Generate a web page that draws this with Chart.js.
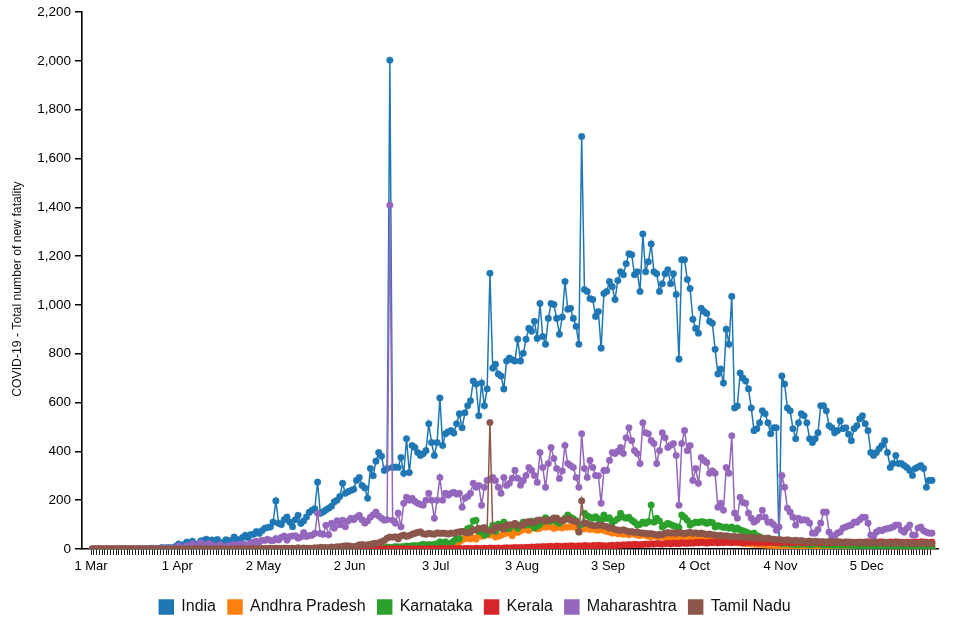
<!DOCTYPE html>
<html>
<head>
<meta charset="utf-8">
<script src="https://cdn.jsdelivr.net/npm/chart.js@4.4.1/dist/chart.umd.min.js"></script>
<style>
html,body{margin:0;padding:0;background:#ffffff;}
#wrap{width:957px;height:628px;position:relative;}
</style>
</head>
<body>
<div id="wrap"><canvas id="c"></canvas></div>
<script>
// ---- categories / labels ----
const seriesNames = ['India', 'Andhra Pradesh', 'Karnataka', 'Kerala', 'Maharashtra', 'Tamil Nadu'];
const seriesColors = ['#1f77b4', '#ff7f0e', '#2ca02c', '#d62728', '#9467bd', '#8c564b'];
const xTickLabels = ['1 Mar', '1 Apr', '2 May', '2 Jun', '3 Jul', '3 Aug', '3 Sep', '4 Oct', '4 Nov', '5 Dec'];
const xTickEvery = 31;            // one labelled tick every 31 days, starting 1 Mar
const yTickValues = [0, 200, 400, 600, 800, 1000, 1200, 1400, 1600, 1800, 2000, 2200];
const yAxisTitle = 'COVID-19 - Total number of new fatality';

// ---- daily new fatalities, 1 Mar .. 28 Dec (one value per day) ----
const india = [].concat(
  [0,0,0,0,0,0,0,0,0,0,0,1,0,1,0,0,0,1,0,1,1,3,3,2,2,6,4,6,5,5,11],
  [20,12,18,28,10,32,17,20,33,35,40,28,37,29,39,26,23,38,35,31,49,40,33,47,56,46,59,60,72,64],
  [75,85,88,90,110,197,105,100,120,131,110,91,120,138,105,115,131,150,159,165,274,146,152,160,167,175,193,200,215,269,228],
  [235,240,245,281,293,260,250,208,330,300,360,395,380,322,330,2003,334,336,334,375,310,452,313,424,416,395,383,390,403,513],
  [436,383,436,619,424,472,480,485,475,513,554,497,558,587,607,688,676,546,680,587,656,1130,741,757,717,709,656,770,782,775,770],
  [859,770,802,859,904,892,933,863,1006,871,839,945,1006,1002,945,880,950,1096,982,986,945,912,839,1690,1063,1055,1026,1022,953,973,823],
  [1047,1055,1096,1075,1022,1100,1136,1124,1169,1210,1206,1124,1136,1055,1291,1136,1177,1250,1136,1128,1055,1087,1128,1144,1087,1128,1043,778,1185,1185],
  [1104,1067,941,904,884,986,973,965,933,925,818,717,737,680,900,839,1035,578,586,721,700,688,656,578,485,493,517,566,554,517,472],
  [497,497,35,709,676,578,566,493,452,517,554,546,517,452,436,452,476,587,587,566,505,497,476,485,525,493,497,470,444,493],
  [505,533,546,513,485,395,383,395,411,424,444,395,334,350,383,350,350,342,334,322,301,330,336,342,330,253,281,281]
);
const andhraPradesh = [].concat(
  [0,0,0,0,0,0,0,0,0,0,0,0,0,0,0,0,0,0,0,0,0,0,0,0,0,0,0,0,0,0,0],
  [0,0,1,0,0,0,1,0,1,0,0,0,1,0,2,0,1,0,1,0,1,0,0,1,0,1,1,0,0,0],
  [0,1,0,1,0,2,0,1,1,0,2,1,0,1,0,1,2,0,1,0,1,0,2,1,0,1,2,1,0,1,2],
  [1,2,1,0,2,1,3,2,1,3,2,4,3,2,4,5,3,4,6,5,4,7,6,8,7,6,9,8,10,11],
  [13,12,11,13,12,14,17,14,15,17,30,37,44,43,41,45,40,58,52,54,62,57,61,49,52,56,62,65,67,54,77],
  [68,74,82,80,76,88,90,82,85,93,89,92,90,84,88,90,86,90,89,92,90,88,84,86,82,88,80,84,78,77,80],
  [76,72,70,65,68,62,64,60,62,58,65,60,57,55,59,56,52,50,54,51,49,52,48,50,47,46,48,45,44,46],
  [43,42,44,40,41,39,38,40,37,36,35,34,33,32,30,31,28,27,26,25,24,22,23,21,20,19,18,17,16,15,15],
  [14,13,14,12,13,11,12,10,11,12,10,9,11,10,9,8,10,9,8,9,7,8,7,9,8,6,7,8,6,7],
  [6,5,7,5,6,4,5,6,4,5,3,5,4,6,4,3,5,4,3,4,5,3,4,3,4,3,2,4]
);
const karnataka = [].concat(
  [0,0,0,0,0,0,0,0,0,0,0,0,1,0,0,0,0,0,0,0,0,0,0,0,1,0,1,0,0,0,2],
  [0,1,1,0,1,0,0,1,0,1,0,1,1,1,0,2,1,0,1,0,1,1,0,1,0,1,1,0,1,0],
  [1,0,1,0,1,0,1,0,1,2,0,1,0,1,1,0,1,1,2,1,1,0,1,2,3,2,1,3,2,3,4],
  [3,2,4,3,5,4,3,4,5,6,5,6,7,6,8,6,7,10,8,9,10,12,11,13,14,12,16,19,16,18],
  [16,19,21,29,23,29,19,24,33,42,42,71,73,84,87,115,118,72,71,57,61,80,97,72,102,85,110,83,84,98,101],
  [84,98,110,98,100,114,86,93,101,118,128,114,115,127,111,105,115,126,139,130,124,116,70,100,146,136,130,126,132,124,115],
  [139,125,128,110,116,124,146,130,126,130,118,110,98,101,110,105,112,180,110,126,115,90,98,105,100,95,92,88,139,130],
  [118,98,105,110,108,112,110,105,110,108,90,96,92,88,90,85,90,80,86,78,75,70,65,60,65,55,50,45,42,38,36],
  [30,25,28,22,23,24,20,20,18,19,21,20,19,17,18,21,20,19,16,18,17,16,15,18,14,17,15,16,14,13],
  [14,12,13,15,11,12,14,13,10,12,11,13,12,10,11,12,10,9,11,12,10,9,11,10,12,9,10,11]
);
const kerala = [].concat(
  [0,0,0,0,0,0,0,0,0,0,0,0,0,0,0,0,0,0,0,0,0,0,0,0,0,0,0,1,0,0,0],
  [0,1,0,0,0,0,0,0,0,0,0,0,0,0,0,0,0,0,0,0,0,0,0,0,0,0,0,0,0,0],
  [0,0,0,0,0,0,0,0,0,0,0,0,0,0,0,0,0,0,0,0,1,0,0,0,1,0,0,0,1,1,0],
  [0,1,0,0,1,0,1,0,0,1,0,1,0,0,1,0,0,1,0,0,1,0,0,1,0,0,1,0,0,1],
  [1,1,0,2,1,1,2,1,2,1,2,1,2,2,2,1,3,2,2,3,2,4,3,3,4,3,4,5,4,5,6],
  [5,6,5,7,6,8,7,9,8,10,9,10,11,9,12,11,10,12,11,13,12,11,13,12,14,13,12,14,13,15,14],
  [13,12,14,15,13,16,15,17,16,18,17,19,18,17,19,20,19,21,20,22,21,20,22,23,21,24,23,22,25,24],
  [23,25,24,26,25,27,26,24,27,26,28,25,27,26,28,27,26,29,28,27,25,28,27,29,28,26,27,28,26,27,28],
  [27,28,26,27,29,28,27,26,28,29,27,26,28,27,29,28,27,26,28,27,26,28,27,29,28,27,26,28,27,26],
  [27,28,26,27,29,28,27,26,28,29,27,26,28,27,29,28,27,26,28,27,26,28,27,29,28,27,26,28]
);
const maharashtra = [].concat(
  [0,0,0,0,0,0,0,0,0,0,0,0,0,0,0,0,0,1,0,0,0,1,1,0,1,1,2,1,3,2,3],
  [13,3,4,13,7,21,13,9,25,10,17,22,16,11,9,17,7,9,14,11,18,14,19,20,18,7,22,28,32,27],
  [36,35,40,35,34,43,37,48,53,36,51,53,54,44,49,67,51,55,56,64,146,63,60,97,58,105,85,116,99,118,91],
  [115,126,120,130,138,120,106,115,130,140,151,135,126,118,120,1409,118,106,147,91,187,212,200,208,195,187,183,179,200,228],
  [200,126,200,293,200,228,220,228,232,225,228,171,208,215,228,269,253,260,179,253,281,285,293,280,253,228,293,260,269,290,322],
  [290,261,280,301,334,322,301,273,395,334,253,350,416,371,330,289,320,424,350,342,334,293,253,472,330,293,363,334,301,300,187],
  [322,322,363,395,391,400,416,391,456,497,444,403,391,350,517,476,472,444,432,350,403,476,456,416,425,432,383,179,432,485],
  [403,424,281,330,269,375,363,354,310,320,310,171,187,159,334,310,464,147,126,212,191,187,147,126,110,118,130,159,130,110,110],
  [100,77,90,301,253,167,151,130,98,126,118,120,118,106,65,65,80,106,151,151,69,49,55,65,70,86,90,95,98,110],
  [110,120,130,130,106,57,49,69,77,75,81,84,86,90,98,98,77,69,85,98,57,57,86,90,75,69,65,65]
);
const tamilNadu = [].concat(
  [0,0,0,0,0,0,0,0,0,0,0,0,0,0,0,0,0,0,0,0,0,0,0,0,1,0,0,0,0,0,1],
  [0,1,0,0,1,0,1,1,1,0,1,1,0,0,1,2,0,0,0,1,0,2,2,1,0,1,1,2,1,1],
  [0,1,2,3,1,3,2,2,3,2,0,3,1,5,2,4,2,3,2,5,4,7,6,6,5,8,7,9,9,11,13],
  [13,11,9,12,17,18,16,17,19,22,23,25,30,35,44,49,48,50,41,53,57,51,55,60,64,68,70,62,60,64],
  [62,60,66,64,65,64,61,65,64,68,70,71,68,66,69,79,78,85,84,88,75,518,75,88,89,90,82,97,99,98,105],
  [98,97,98,110,112,109,110,118,119,118,114,119,120,126,127,118,116,120,125,119,116,112,70,197,107,104,100,96,95,98,97],
  [94,92,85,87,80,78,76,79,75,70,72,68,70,66,65,64,62,63,60,57,60,58,64,67,65,66,64,68,65,63],
  [66,68,64,66,63,65,62,60,61,58,57,55,56,53,54,52,50,51,49,50,48,47,46,48,45,44,46,43,42,45,41],
  [40,38,39,37,36,38,35,34,36,33,35,32,31,33,30,32,31,29,30,28,31,29,27,30,28,26,29,27,28,26],
  [25,27,26,28,25,24,27,26,25,24,26,25,23,25,24,26,24,23,25,24,22,24,23,25,24,23,24,22]
);

const seriesValues = [india, andhraPradesh, karnataka, kerala, maharashtra, tamilNadu];
const dayIndex = india.map((v, i) => i);

const FONT = "'Liberation Sans', Arial, Helvetica, sans-serif";

const datasets = seriesValues.map((vals, s) => ({
  label: seriesNames[s],
  data: vals.map((v, i) => ({ x: i + 0.5, y: v })),
  borderColor: seriesColors[s],
  backgroundColor: seriesColors[s],
  pointBackgroundColor: seriesColors[s],
  pointBorderColor: seriesColors[s],
  borderWidth: 1.5,
  pointRadius: 3.3,
  pointBorderWidth: 0.4,
  pointHoverRadius: 3.3,
  tension: 0,
  fill: false,
  clip: { left: 6, right: 6, top: 6, bottom: 0 },
  order: seriesNames.length - s
}));

// y-axis title drawn rotated at the position used by the reference
const yTitlePlugin = {
  id: 'yTitle',
  afterDraw(chart) {
    const ctx = chart.ctx;
    ctx.save();
    ctx.translate(18, 289);
    ctx.rotate(-Math.PI / 2);
    ctx.font = "12.2px " + FONT;
    ctx.fillStyle = '#111';
    ctx.textAlign = 'center';
    ctx.textBaseline = 'middle';
    ctx.fillText(yAxisTitle, 0, 0);
    ctx.restore();
  }
};

new Chart(document.getElementById('c'), {
  type: 'line',
  data: { datasets },
  plugins: [yTitlePlugin],
  options: {
    responsive: true,
    maintainAspectRatio: false,
    animation: false,
    events: [],
    layout: { padding: { left: 12, right: 19, top: 9, bottom: 3 } },
    plugins: {
      tooltip: { enabled: false },
      legend: {
        position: 'bottom',
        align: 'center',
        labels: {
          boxWidth: 14,
          boxHeight: 14,
          padding: 12,
          color: '#111',
          font: { family: FONT, size: 16 },
          sort: (a, b) => a.datasetIndex - b.datasetIndex
        }
      }
    },
    scales: {
      x: {
        type: 'linear',
        min: -9 / 2.78,
        max: (938 - 91) / 2.78,
        afterBuildTicks: (scale) => { scale.ticks = dayIndex.map(d => ({ value: d })); },
        afterFit: (scale) => { scale.height = 38; },
        grid: {
          drawOnChartArea: false,
          drawTicks: true,
          tickLength: 6,
          color: '#000',
          lineWidth: 0.9
        },
        border: { display: true, color: '#000', width: 1.6 },
        ticks: {
          autoSkip: false,
          maxRotation: 0,
          minRotation: 0,
          padding: 4,
          color: '#000',
          font: { family: FONT, size: 13 },
          callback: (value) => (value % xTickEvery === 0 && xTickLabels[value / xTickEvery] !== undefined) ? xTickLabels[value / xTickEvery] : ''
        }
      },
      y: {
        type: 'linear',
        min: yTickValues[0],
        max: yTickValues[yTickValues.length - 1],
        afterBuildTicks: (scale) => { scale.ticks = yTickValues.map(v => ({ value: v })); },
        afterFit: (scale) => { scale.width = 70; },
        grid: {
          drawOnChartArea: false,
          drawTicks: true,
          tickLength: 7,
          color: '#000',
          lineWidth: 1.5
        },
        border: { display: true, color: '#000', width: 1.6 },
        ticks: {
          padding: 4,
          color: '#000',
          font: { family: FONT, size: 13.5 },
          callback: (value) => value.toLocaleString('en-US')
        },
        title: { display: false }
      }
    }
  }
});
</script>
</body>
</html>
